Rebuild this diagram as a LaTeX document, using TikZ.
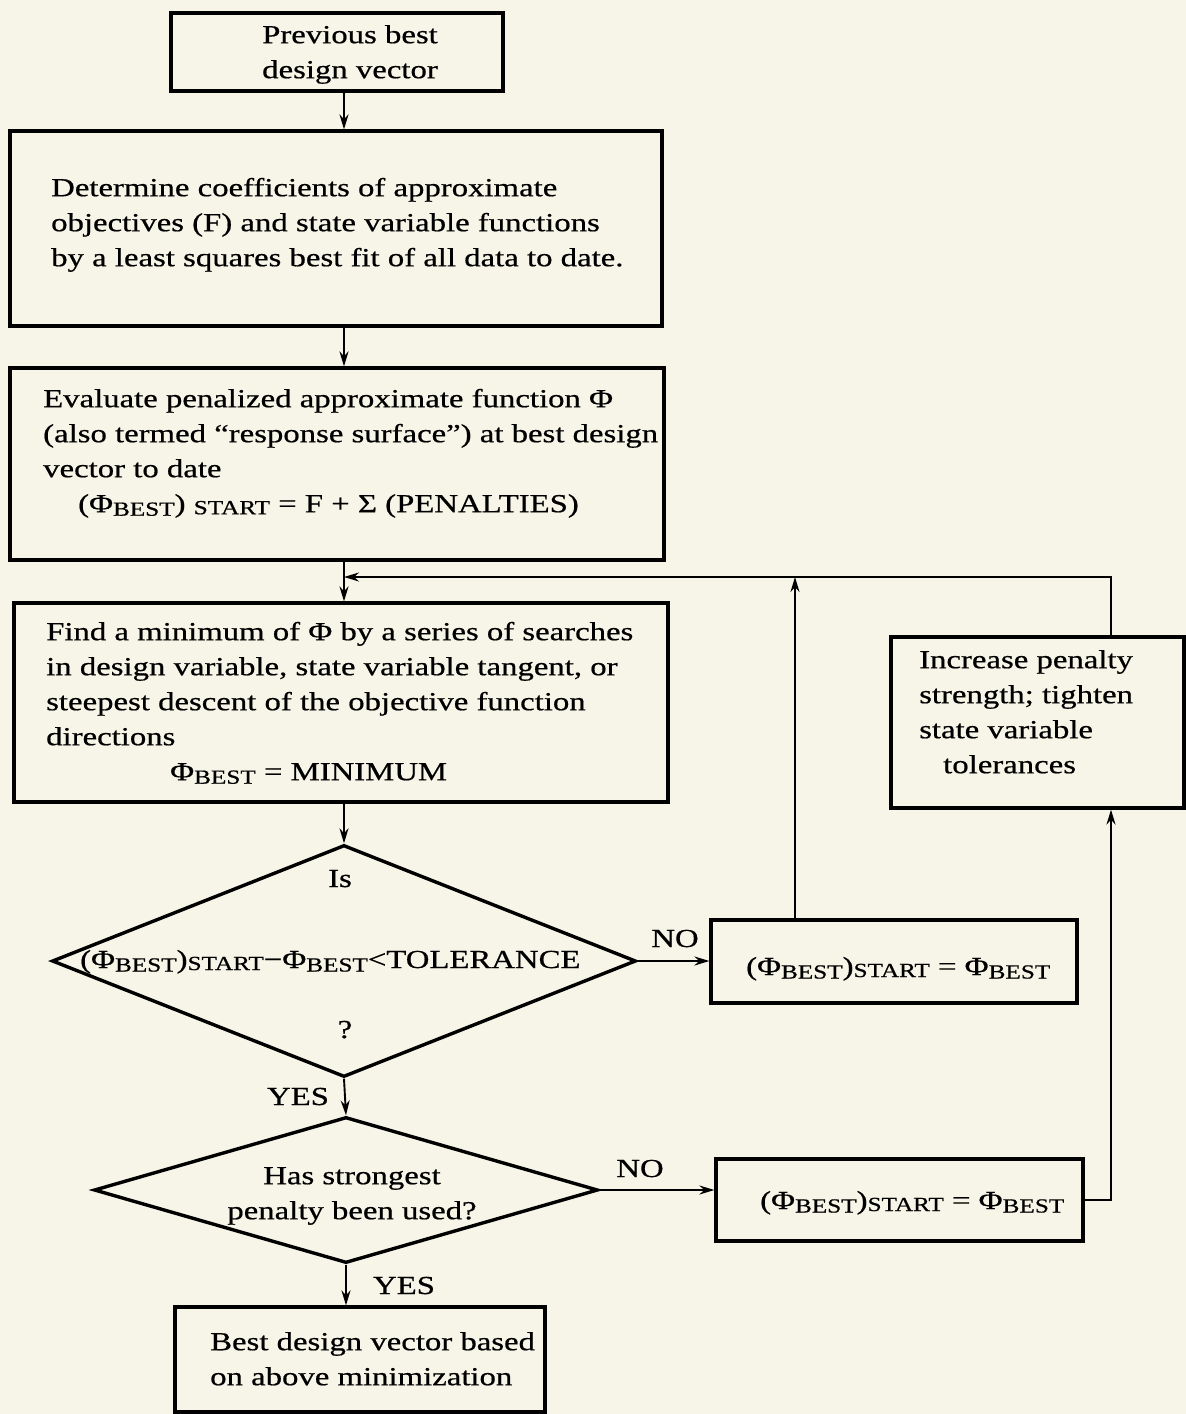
\documentclass[tikz,border=0pt]{standalone}
\usepackage{fontspec}
\setmainfont{Liberation Serif}[FakeStretch=1.26,FakeBold=0.6]
\usetikzlibrary{shapes.geometric,arrows.meta,calc}
\definecolor{paper}{RGB}{247,245,231}
\newcommand\lowsc[2][-3.5pt]{\raisebox{#1}{\fontsize{20}{20}\selectfont #2}}
\begin{document}
\begin{tikzpicture}[x=1pt,y=-1pt,
  box/.style={draw, line width=3.2pt, inner sep=0pt},
  dia/.style={draw, diamond, line width=3.4pt, inner sep=0pt},
  txt/.style={font=\fontsize{26}{35}\selectfont, inner sep=0pt, align=left},
  lbl/.style={font=\fontsize{26}{35}\selectfont, inner sep=0pt},
  arr/.style={line width=1.9pt, -{Stealth[length=15pt,width=9pt]}}]
\fill[paper] (0,0) rectangle (1186,1414);
\useasboundingbox (0,0) rectangle (1186,1414);

% boxes
\node[box, minimum width=332pt, minimum height=78pt] (b1) at (337,52) {};
\node[box, minimum width=652pt, minimum height=195pt] (b2) at (336,228.5) {};
\node[box, minimum width=654pt, minimum height=192pt] (b3) at (337,464) {};
\node[box, minimum width=654pt, minimum height=199pt] (b4) at (341,702.5) {};
\node[box, minimum width=293pt, minimum height=171pt] (b7) at (1037.5,722.5) {};
\node[box, minimum width=366pt, minimum height=83pt] (b6) at (894,961.5) {};
\node[box, minimum width=367pt, minimum height=82pt] (b9) at (899.5,1200) {};
\node[box, minimum width=370pt, minimum height=105pt] (b10) at (360,1359.5) {};
\node[dia, minimum width=584pt, minimum height=232pt] (d1) at (344,961) {};
\node[dia, minimum width=504pt, minimum height=146pt] (d2) at (346,1190) {};

% texts
\node[txt, align=center, anchor=north] (t1) at (350,18.5) {\strut Previous best\\design vector};
\node[txt, anchor=north west] (t2) at (51,171.5) {\strut Determine coefficients of approximate\\objectives (F) and state variable functions\\by a least squares best fit of all data to date.};
\node[txt, anchor=north west] (t3) at (43,382.5) {\strut Evaluate penalized approximate function Φ\\(also termed “response surface”) at best design\\vector to date\\\hspace*{35pt}(Φ\lowsc{BEST}) \lowsc[-2pt]{START} = F + Σ (PENALTIES)};
\node[txt, anchor=north west] (t4) at (46,615.5) {\strut Find a minimum of Φ by a series of searches\\in design variable, state variable tangent, or\\steepest descent of the objective function\\directions\\\hspace*{124pt}Φ\lowsc{BEST} = MINIMUM};
\node[txt, anchor=north west] (t7) at (919,643.5) {\strut Increase penalty\\strength; tighten\\state variable\\\hspace*{24pt}tolerances};
\node[lbl, anchor=base west] (t6) at (746,975) {(Φ\lowsc{BEST})\lowsc[-2pt]{START} = Φ\lowsc{BEST}};
\node[lbl, anchor=base west] (t9) at (760,1209) {(Φ\lowsc{BEST})\lowsc[-2pt]{START} = Φ\lowsc{BEST}};
\node[lbl, anchor=base] (td1a) at (340,887) {Is};
\node[lbl, anchor=base west] (td1b) at (80,968) {(Φ\lowsc{BEST})\lowsc[-2pt]{START}−Φ\lowsc{BEST}<TOLERANCE};
\node[lbl, anchor=base] (td1c) at (345,1038) {?};
\node[txt, align=center, anchor=north] (td2) at (352,1159.5) {\strut Has strongest\\penalty been used?};
\node[txt, anchor=north west] (t10) at (210,1325.5) {\strut Best design vector based\\on above minimization};

% labels
\node[lbl, anchor=base] (no1) at (675,947) {NO};
\node[lbl, anchor=base] (yes1) at (298,1105) {YES};
\node[lbl, anchor=base] (no2) at (640,1177) {NO};
\node[lbl, anchor=base] (yes2) at (404,1294) {YES};

% connectors
\coordinate (sp) at (344,0);
\coordinate (j) at (344,577);
\coordinate (rx) at (1111,0);
\coordinate (ux) at (795,0);
\draw[arr] (b1.south -| sp) -- (b2.north -| sp);
\draw[arr] (b2.south -| sp) -- (b3.north -| sp);
\draw[arr] (b3.south -| sp) -- (b4.north -| sp);
\draw[arr] (b4.south -| sp) -- (d1.north);
\draw[arr] (d1.east) -- (d1.east -| b6.west);
\draw[arr] (d1.south) -- (d2.north);
\draw[arr] (d2.east) -- (d2.east -| b9.west);
\draw[arr] (d2.south) -- (d2.south |- b10.north);
\draw[arr] (b7.north -| rx) |- (j);
\draw[arr] (b6.north -| ux) -- (ux |- j);
\draw[arr] (b9.east) -| (b7.south -| rx);
\end{tikzpicture}
\end{document}
